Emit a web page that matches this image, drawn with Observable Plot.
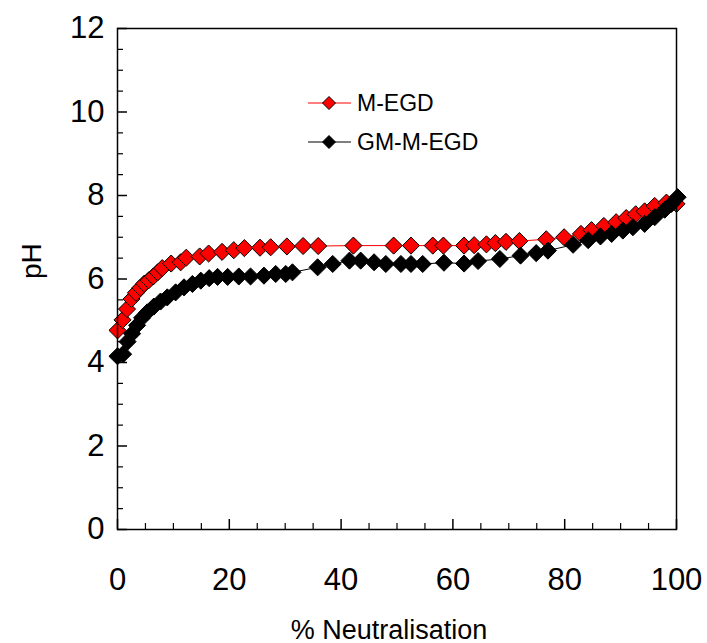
<!DOCTYPE html>
<html><head><meta charset="utf-8">
<script src="https://cdn.jsdelivr.net/npm/d3@7"></script>
<script src="https://cdn.jsdelivr.net/npm/@observablehq/plot@0.6"></script>
<style>
body{margin:0;background:#fff}
#wrap{position:relative;width:707px;height:643px;font-family:"Liberation Sans",Arial,sans-serif}
#legend{position:absolute;left:306px;top:90px}
.row{display:flex;align-items:center;height:26px;margin-bottom:13px}
.row span{font-size:23px;margin-left:5px;color:#000}
</style>
</head><body><div id="wrap"></div>
<script>
const seriesNames = ["M-EGD", "GM-M-EGD"];
const seriesFill = ["#ff0000", "#000000"];
const xTitle = "% Neutralisation";
const yTitle = "pH";

const mEgdX  = [0, 0.9, 1.7, 2.5, 3.3, 4.1, 4.8, 5.6, 6.4, 7.2, 8.0, 9.6, 11.3, 12.3, 14.7, 16.3, 18.7, 20.8, 22.7, 25.5, 27.4, 30.3, 33.2, 35.9, 42.2, 49.4, 52.5, 56.4, 58.3, 62.0, 63.8, 66.0, 67.6, 69.5, 71.9, 76.7, 79.9, 82.9, 84.8, 87.0, 89.2, 91.0, 92.7, 94.3, 96.1, 98.2, 100];
const mEgdPH = [4.77, 5.02, 5.28, 5.52, 5.67, 5.79, 5.89, 5.97, 6.06, 6.16, 6.26, 6.37, 6.40, 6.51, 6.54, 6.61, 6.65, 6.69, 6.74, 6.75, 6.76, 6.78, 6.79, 6.79, 6.80, 6.80, 6.80, 6.80, 6.80, 6.80, 6.81, 6.83, 6.86, 6.89, 6.91, 6.95, 7.00, 7.08, 7.17, 7.27, 7.36, 7.46, 7.55, 7.62, 7.75, 7.83, 7.80];

const gmX  = [0, 1.0, 1.8, 2.6, 3.5, 4.4, 5.3, 6.5, 7.7, 8.9, 10.4, 11.9, 13.4, 14.9, 16.4, 17.9, 19.7, 21.7, 23.8, 26.2, 28.3, 30.1, 31.3, 35.8, 38.5, 41.5, 43.5, 45.9, 48.0, 50.7, 52.5, 54.6, 58.4, 62.0, 64.5, 68.4, 72.1, 74.9, 77.0, 81.5, 84.2, 86.4, 88.4, 90.4, 92.2, 94.3, 96.1, 97.9, 99.1, 100.2];
const gmPH = [4.15, 4.2, 4.5, 4.69, 4.89, 5.07, 5.2, 5.34, 5.46, 5.56, 5.68, 5.8, 5.88, 5.96, 6.02, 6.05, 6.05, 6.06, 6.06, 6.08, 6.12, 6.12, 6.16, 6.28, 6.36, 6.44, 6.44, 6.40, 6.36, 6.36, 6.36, 6.36, 6.39, 6.37, 6.43, 6.48, 6.56, 6.62, 6.68, 6.82, 6.93, 7.02, 7.08, 7.16, 7.24, 7.32, 7.48, 7.66, 7.8, 7.96];

const xTicks = [0, 20, 40, 60, 80, 100];
const yTicks = [0, 2, 4, 6, 8, 10, 12];
const xMinor = [5, 10, 15, 25, 30, 35, 45, 50, 55, 65, 70, 75, 85, 90, 95];
const yMinor = [0.5, 1, 1.5, 2.5, 3, 3.5, 4.5, 5, 5.5, 6.5, 7, 7.5, 8.5, 9, 9.5, 10.5, 11, 11.5];

const red = mEgdX.map((x, i) => ({x, y: mEgdPH[i]}));
const blk = gmX.map((x, i) => ({x, y: gmPH[i]}));

const W = 707, H = 643, mL = 117, mR = 31, mT = 28, mB = 114;
const fw = W - mL - mR, fh = H - mT - mB;

const chart = Plot.plot({
  width: W, height: H,
  marginLeft: mL, marginRight: mR, marginTop: mT, marginBottom: mB,
  style: {fontFamily: '"Liberation Sans", Arial, sans-serif', fontSize: "31px", color: "#000", background: "#fff"},
  x: {domain: [0, 100]},
  y: {domain: [0, 12]},
  marks: [
    Plot.axisX({ticks: xTicks, tickSize: 0, tickPadding: 38, fontSize: 31, label: null}),
    Plot.axisY({ticks: yTicks, tickSize: 0, tickPadding: 13, fontSize: 31, label: null}),
    Plot.text([xTitle], {frameAnchor: "bottom", dx: -8, dy: 109, lineAnchor: "bottom", fontSize: 27, fill: "#000"}),
    Plot.text([yTitle], {frameAnchor: "left", dx: -85, rotate: -90, lineAnchor: "middle", fontSize: 28, fill: "#000"}),
    Plot.tickX(xTicks, {x: d => d, insetTop: fh - 10, stroke: "#000", strokeWidth: 1.5}),
    Plot.tickX(xMinor, {x: d => d, insetTop: fh - 6, stroke: "#000", strokeWidth: 1.2}),
    Plot.tickY(yTicks, {y: d => d, insetRight: fw - 10, stroke: "#000", strokeWidth: 1.5}),
    Plot.tickY(yMinor, {y: d => d, insetRight: fw - 6, stroke: "#000", strokeWidth: 1.2}),
    Plot.line(red, {x: "x", y: "y", stroke: seriesFill[0], strokeWidth: 1}),
    Plot.dot(red, {x: "x", y: "y", symbol: "diamond2", r: 7.7, fill: seriesFill[0], stroke: "#000", strokeWidth: 1}),
    Plot.line(blk, {x: "x", y: "y", stroke: seriesFill[1], strokeWidth: 1}),
    Plot.dot(blk, {x: "x", y: "y", symbol: "diamond2", r: 7.7, fill: seriesFill[1], stroke: "#000", strokeWidth: 1}),
    Plot.frame({stroke: "#000", strokeWidth: 1.5})
  ]
});
const wrap = document.getElementById("wrap");
wrap.appendChild(chart);

const legend = document.createElement("div");
legend.id = "legend";
seriesNames.forEach((name, i) => {
  const row = document.createElement("div");
  row.className = "row";
  const ns = "http://www.w3.org/2000/svg";
  const svg = document.createElementNS(ns, "svg");
  svg.setAttribute("width", 46); svg.setAttribute("height", 26);
  const ln = document.createElementNS(ns, "line");
  ln.setAttribute("x1", 2); ln.setAttribute("x2", 45); ln.setAttribute("y1", 13); ln.setAttribute("y2", 13);
  ln.setAttribute("stroke", seriesFill[i]); ln.setAttribute("stroke-width", 1.2);
  const dm = document.createElementNS(ns, "path");
  dm.setAttribute("d", "M23,6.5L29.5,13L23,19.5L16.5,13Z");
  dm.setAttribute("fill", seriesFill[i]); dm.setAttribute("stroke", "#000"); dm.setAttribute("stroke-width", 1);
  svg.appendChild(ln); svg.appendChild(dm);
  const sp = document.createElement("span");
  sp.textContent = name;
  row.appendChild(svg); row.appendChild(sp);
  legend.appendChild(row);
});
wrap.appendChild(legend);
</script>
</body></html>
